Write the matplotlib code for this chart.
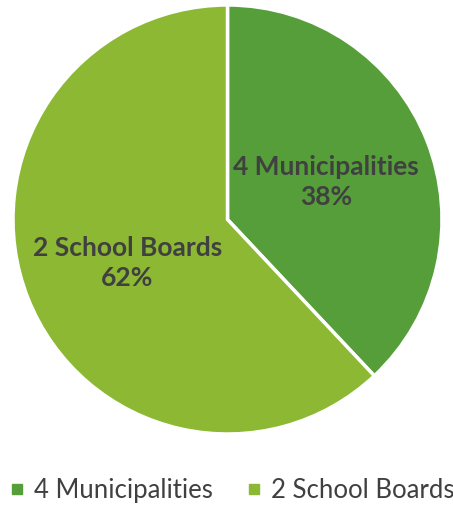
import matplotlib
matplotlib.use("Agg")
import matplotlib.pyplot as plt
from matplotlib.lines import Line2D

categories = ["4 Municipalities", "2 School Boards"]
shares = [38, 62]
colors = ["#559E3A", "#8CB833"]
text_color = "#404040"

plt.rcParams['font.family'] = ['Lato', 'DejaVu Sans']

W, H = 453, 506
fig = plt.figure(figsize=(W / 100, H / 100), dpi=100)
# pie area in pixel coords: left, bottom, width, height
px_left, px_bottom, px_size = 13, 71, 429
ax = fig.add_axes([px_left / W, px_bottom / H, px_size / W, px_size / H])

wedges, texts = ax.pie(
    shares, colors=colors, startangle=90, counterclock=False,
    radius=1.0, wedgeprops=dict(edgecolor="white", linewidth=2.5),
)
ax.set_xlim(-1.0, 1.0)
ax.set_ylim(-1.0, 1.0)
ax.set_aspect("equal")
ax.axis("off")

label_pos = [(0.46, 0.18), (-0.467, -0.20)]
for cat, val, (x, y) in zip(categories, shares, label_pos):
    ax.text(x, y, f"{cat}\n{val}%", ha="center", va="center",
            fontsize=19, fontweight="bold", color=text_color, linespacing=1.3)

handles = [Line2D([0], [0], marker="s", linestyle="none", markersize=6.5,
                  markerfacecolor=c, markeredgecolor=c) for c in colors]
fig.legend(handles, categories, loc="center left",
           bbox_to_anchor=(11 / W, 1 - 491 / H),
           ncol=2, frameon=False, fontsize=18.5, labelcolor=text_color,
           borderpad=0, borderaxespad=0,
           handletextpad=0.39, columnspacing=1.37, handlelength=0.5)

fig.savefig("out.png", dpi=100)
